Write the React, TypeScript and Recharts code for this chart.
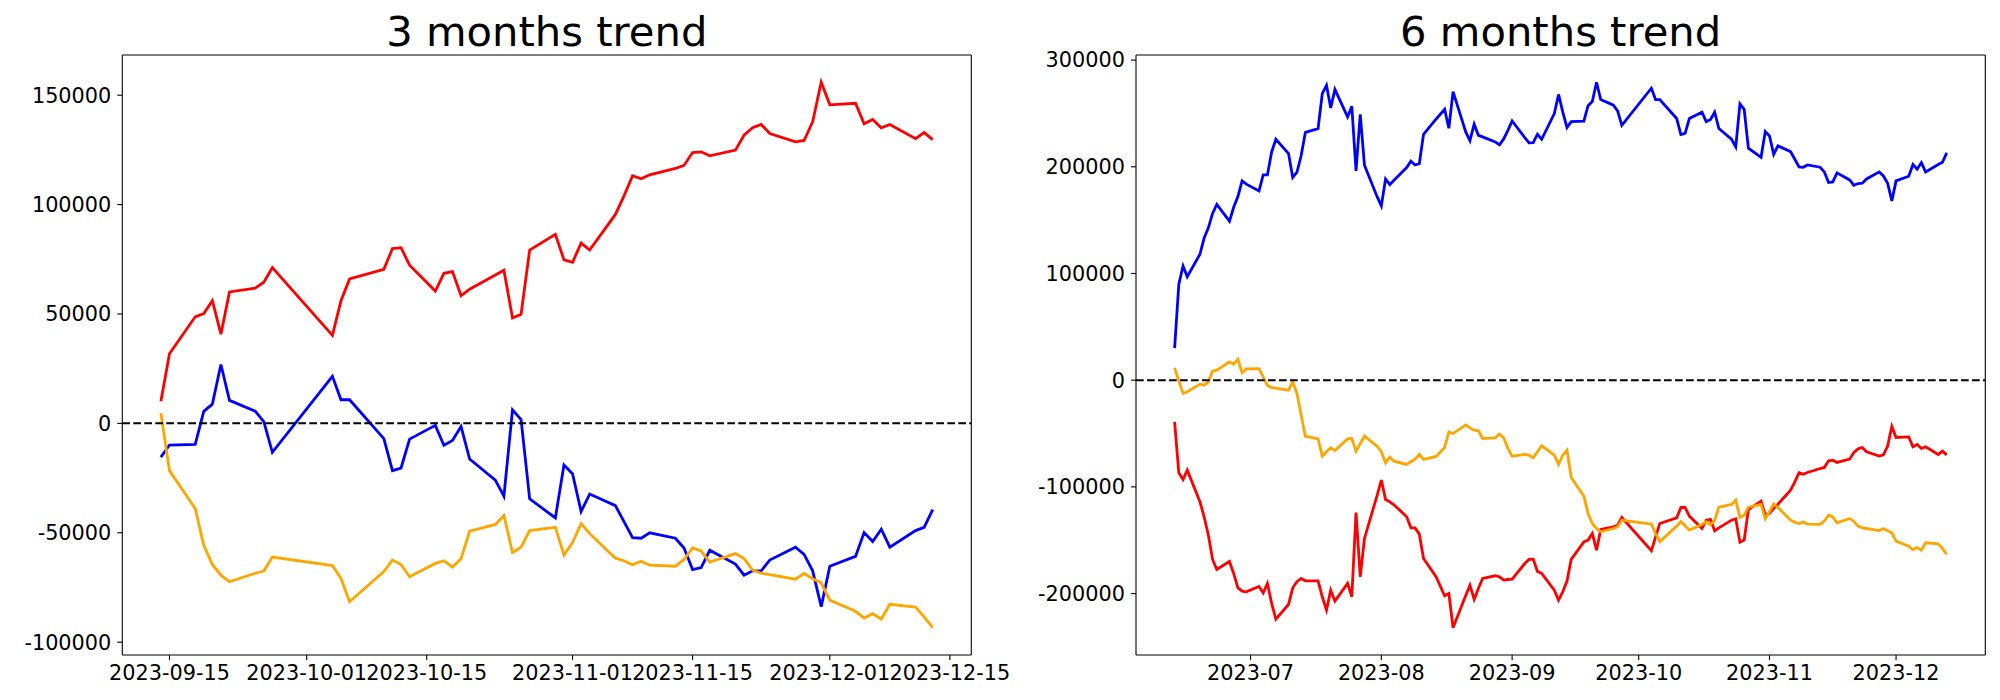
import { LineChart, Line, XAxis, YAxis, ReferenceLine } from 'recharts'

// ---- 3 months ----
const dates3m = [
  '2023-09-14', '2023-09-15', '2023-09-18', '2023-09-19', '2023-09-20', '2023-09-21', '2023-09-22', '2023-09-25', '2023-09-26', '2023-09-27',
  '2023-10-04', '2023-10-05', '2023-10-06', '2023-10-10', '2023-10-11', '2023-10-12', '2023-10-13', '2023-10-16', '2023-10-17', '2023-10-18',
  '2023-10-19', '2023-10-20', '2023-10-23', '2023-10-24', '2023-10-25', '2023-10-26', '2023-10-27', '2023-10-30', '2023-10-31',
  '2023-11-01', '2023-11-02', '2023-11-03', '2023-11-06', '2023-11-07', '2023-11-08', '2023-11-09', '2023-11-10', '2023-11-13', '2023-11-14',
  '2023-11-15', '2023-11-16', '2023-11-17', '2023-11-20', '2023-11-21', '2023-11-22', '2023-11-23', '2023-11-24', '2023-11-27', '2023-11-28',
  '2023-11-29', '2023-11-30',
  '2023-12-01', '2023-12-04', '2023-12-05', '2023-12-06', '2023-12-07', '2023-12-08', '2023-12-11', '2023-12-12', '2023-12-13',
]
const red3m = [
  10100, 31800, 48700, 50200, 56100, 40800, 60100, 61800, 64500, 71200,
  40200, 56100, 66000, 70400, 79900, 80300, 72300, 60500, 68600, 69400,
  58300, 61300, 67800, 70000, 48200, 49900, 79200, 86400, 74700,
  73600, 82400, 79200, 95500, 104000, 113200, 111800, 113600, 116500, 117900,
  123800, 124100, 122300, 124900, 131700, 135100, 136600, 132500, 128700, 129300,
  137800, 155900,
  145600, 146300, 136900, 138900, 135100, 136600, 130100, 132900, 129700,
]
const blue3m = [
  -15400, -9900, -9600, 5500, 8800, 26900, 10500, 5600, 800, -13200,
  21500, 10800, 10800, -7000, -21600, -20400, -7200, -900, -10000, -7800,
  -1400, -16300, -25900, -33300, 6200, 1700, -34500, -43200, -19000,
  -23000, -40300, -32300, -37600, -44900, -52200, -52500, -50000, -52500, -57000,
  -66800, -65900, -58000, -64300, -69400, -67400, -67400, -62500, -56600, -59900,
  -67400, -83800,
  -65300, -60800, -49900, -54000, -48400, -56600, -49000, -47500, -39400,
]
const orange3m = [
  4700, -21600, -38900, -55700, -64500, -69400, -72400, -68500, -67500, -61100,
  -65000, -70900, -81500, -67700, -62500, -64500, -70100, -64000, -62800, -65700,
  -61900, -49300, -46200, -42100, -59000, -56600, -49000, -47500, -60200,
  -54500, -45800, -50400, -61600, -62800, -64600, -63000, -64800, -65300, -62200,
  -56900, -58300, -63400, -59500, -61800, -67100, -68500, -69100, -71200, -68600,
  -71000, -72900,
  -80800, -85900, -89000, -87000, -89400, -82700, -84000, -88400, -93400,
]
const xTicks3m = ['2023-09-15', '2023-10-01', '2023-10-15', '2023-11-01', '2023-11-15', '2023-12-01', '2023-12-15']
const yTicks3m = [-100000, -50000, 0, 50000, 100000, 150000]

// ---- 6 months ----
const dates6m = [
  '2023-06-13', '2023-06-14', '2023-06-15', '2023-06-16', '2023-06-19', '2023-06-20', '2023-06-21', '2023-06-22', '2023-06-23',
  '2023-06-26', '2023-06-27', '2023-06-28', '2023-06-29', '2023-06-30',
  '2023-07-03', '2023-07-04', '2023-07-05', '2023-07-06', '2023-07-07', '2023-07-10', '2023-07-11', '2023-07-12', '2023-07-13', '2023-07-14',
  '2023-07-17', '2023-07-18', '2023-07-19', '2023-07-20', '2023-07-21', '2023-07-24', '2023-07-25', '2023-07-26', '2023-07-27', '2023-07-28',
  '2023-07-31',
  '2023-08-01', '2023-08-02', '2023-08-03', '2023-08-04', '2023-08-07', '2023-08-08', '2023-08-09', '2023-08-10', '2023-08-11',
  '2023-08-14', '2023-08-16', '2023-08-17', '2023-08-18', '2023-08-21', '2023-08-22', '2023-08-23', '2023-08-24', '2023-08-25',
  '2023-08-28', '2023-08-29', '2023-08-30', '2023-08-31',
  '2023-09-01', '2023-09-04', '2023-09-05', '2023-09-06', '2023-09-07', '2023-09-08', '2023-09-11', '2023-09-12', '2023-09-13',
  '2023-09-14', '2023-09-15', '2023-09-18', '2023-09-19', '2023-09-20', '2023-09-21', '2023-09-22', '2023-09-25', '2023-09-26',
  '2023-09-27',
  '2023-10-04', '2023-10-05', '2023-10-06', '2023-10-10', '2023-10-11', '2023-10-12', '2023-10-13', '2023-10-16', '2023-10-17',
  '2023-10-18', '2023-10-19', '2023-10-20', '2023-10-23', '2023-10-24', '2023-10-25', '2023-10-26', '2023-10-27', '2023-10-30',
  '2023-10-31',
  '2023-11-01', '2023-11-02', '2023-11-03', '2023-11-06', '2023-11-07', '2023-11-08', '2023-11-09', '2023-11-10', '2023-11-13',
  '2023-11-14', '2023-11-15', '2023-11-16', '2023-11-17', '2023-11-20', '2023-11-21', '2023-11-22', '2023-11-23', '2023-11-24',
  '2023-11-27', '2023-11-28', '2023-11-29', '2023-11-30',
  '2023-12-01', '2023-12-04', '2023-12-05', '2023-12-06', '2023-12-07', '2023-12-08', '2023-12-11', '2023-12-12', '2023-12-13',
]
const red6m = [
  -39000, -86800, -93100, -84300, -114000, -128000, -145200, -168000, -177400,
  -169900, -181100, -194600, -197700, -198300,
  -193300, -199300, -190500, -209200, -223900, -210200, -194600, -188900, -185800, -188000,
  -188000, -203000, -215500, -196800, -207100, -190500, -203000, -124000, -184300, -148300,
  -108000,
  -93700, -111800, -114000, -116800, -128000, -138400, -138400, -144300, -167100,
  -184300, -202100, -199900, -232000, -201800, -192100, -205500, -195200, -185800,
  -183300, -184300, -187400, -186800,
  -186400, -171800, -168000, -167700, -179300, -181100, -196800, -206100, -198300,
  -188300, -168000, -151500, -149900, -143700, -159300, -139900, -137400, -135900,
  -128700,
  -159900, -146800, -134300, -129000, -119300, -119300, -127400, -139000, -131200,
  -130500, -141200, -138400, -131200, -129900, -151800, -149900, -121200, -113400,
  -126500,
  -124900, -120200, -116200, -103100, -95300, -86800, -88100, -86500, -82800,
  -81800, -75600, -75000, -77100, -74000, -67800, -64300, -63100, -67100,
  -71200, -70000, -61800, -43400,
  -53700, -53100, -62500, -60300, -64000, -62500, -69600, -66500, -70000,
]
const blue6m = [
  30000, 90000, 107000, 96900, 118000, 133200, 142800, 156300, 164800,
  149100, 162100, 172100, 186700, 183700,
  177400, 192400, 192400, 213900, 225800, 212400, 189900, 194900, 210500, 232300,
  235800, 268600, 276400, 255200, 272600, 246700, 256700, 196100, 249200, 201400,
  172000,
  163300, 188600, 183300, 187400, 199300, 205200, 201700, 203000, 230500,
  244800, 253900, 236100, 270500, 232700, 224500, 239900, 229500, 228000,
  223300, 220500, 226100, 234200,
  243000, 227400, 222400, 222700, 230500, 225800, 249800, 267800, 251400,
  236800, 242300, 242700, 257300, 261100, 279200, 263000, 257700, 252300,
  238900,
  273600, 263000, 263000, 245200, 230200, 231400, 245200, 251100, 242300,
  244200, 251100, 235800, 225800, 218600, 258900, 253900, 217400, 208900,
  233000,
  228900, 211700, 219600, 214200, 207100, 199900, 199600, 201700, 199600,
  195200, 185200, 185800, 194300, 187700, 182700, 184300, 184600, 188600,
  195200, 191400, 184600, 168000,
  186800, 191100, 202100, 197700, 203900, 195200, 202100, 204200, 213000,
]
const orange6m = [
  11600, -900, -12500, -10900, -3700, -4700, -1600, 8400, 9400,
  17200, 15000, 19800, 7000, 10600,
  10900, 3100, -5000, -6900, -7500, -9400, -1600, -12500, -32800, -52500,
  -55000, -71200, -67100, -63400, -65900, -55000, -54700, -66500, -59300, -52500,
  -61800,
  -67100, -77500, -72100, -75900, -79000, -76500, -74000, -69600, -74300,
  -71500, -63100, -48400, -50000, -41900, -44700, -46900, -47500, -54700,
  -54000, -50600, -54000, -64000,
  -71200, -69600, -70300, -72800, -67100, -61500, -70300, -79000, -70300,
  -65600, -91200, -108700, -124900, -134300, -139000, -142100, -139000, -137400,
  -131200,
  -134900, -143700, -151500, -136800, -132400, -136500, -140500, -135200, -132700,
  -135500, -131500, -119000, -116500, -112400, -128700, -126500, -119000, -116500,
  -129900,
  -123400, -115900, -119300, -131200, -133000, -134300, -133000, -134900, -135200,
  -132100, -126500, -128100, -133700, -129600, -132400, -136800, -138400, -139000,
  -140900, -139000, -141200, -143000,
  -150800, -155500, -158700, -156800, -159300, -152400, -153300, -157700, -163300,
]
const xTicks6m = ['2023-07-01', '2023-08-01', '2023-09-01', '2023-10-01', '2023-11-01', '2023-12-01']
const yTicks6m = [-200000, -100000, 0, 100000, 200000, 300000]

const FONT = 'DejaVu Sans'

const day = (s: string) => {
  const [y, m, d] = s.split('-').map(Number)
  return Date.UTC(y, m - 1, d) / 86400000
}

const isoOf = (n: number) => new Date(Math.round(n) * 86400000).toISOString().slice(0, 10)

// matplotlib-style 5% margins
const pad = (lo: number, hi: number): [number, number] => {
  const m = (hi - lo) * 0.05
  return [lo - m, hi + m]
}

type PanelProps = {
  title: string
  dates: string[]
  red: number[]
  blue: number[]
  orange: number[]
  xTicks: string[]
  yTicks: number[]
  fmt: (s: string) => string
  left: number
  width: number
  plotLeft: number
  plotRight: number
}

function Panel({ title, dates, red, blue, orange, xTicks, yTicks, fmt, left, width, plotLeft, plotRight }: PanelProps) {
  const rows = dates.map((d, i) => ({ x: day(d), red: red[i], blue: blue[i], orange: orange[i] }))
  const xs = rows.map(r => r.x)
  const xDomain = pad(Math.min(...xs), Math.max(...xs))
  const all = [...red, ...blue, ...orange]
  const yDomain = pad(Math.min(...all), Math.max(...all))
  const H = 700
  const tickStyle = { fill: '#000', fontSize: 20.8, fontFamily: FONT }
  const line = { stroke: '#000', strokeWidth: 1.1 }

  return (
    <div style={{ position: 'absolute', left, top: 0, width, height: H }}>
      <div
        style={{
          position: 'absolute',
          left: plotLeft,
          width: width - plotLeft - plotRight,
          top: 11.4,
          textAlign: 'center',
          fontFamily: FONT,
          fontSize: 41.7,
          lineHeight: 1,
          color: '#000',
          whiteSpace: 'nowrap',
        }}
      >
        {title}
      </div>
      <LineChart width={width} height={H} data={rows} margin={{ top: 55, right: plotRight, left: 10, bottom: 0 }}>
        <XAxis
          dataKey="x"
          type="number"
          domain={xDomain}
          allowDataOverflow
          ticks={xTicks.map(day)}
          interval={0}
          tickFormatter={(v: number) => fmt(isoOf(v))}
          height={45}
          tickSize={5}
          tickMargin={5}
          tick={tickStyle}
          axisLine={line}
          tickLine={line}
        />
        <YAxis
          type="number"
          domain={yDomain}
          allowDataOverflow
          ticks={yTicks}
          interval={0}
          width={plotLeft - 10}
          tickSize={5}
          tickMargin={6}
          tick={tickStyle}
          axisLine={line}
          tickLine={line}
        />
        {/* top and right spines */}
        <ReferenceLine y={yDomain[1]} stroke="#000" strokeWidth={1.1} />
        <ReferenceLine x={xDomain[1]} stroke="#000" strokeWidth={1.1} />
        <Line type="linear" dataKey="red" stroke="#ff0000" strokeWidth={2.8} dot={false} isAnimationActive={false} />
        <Line type="linear" dataKey="blue" stroke="#0000ff" strokeWidth={2.8} dot={false} isAnimationActive={false} />
        <Line type="linear" dataKey="orange" stroke="#ffa500" strokeWidth={2.8} dot={false} isAnimationActive={false} />
        <ReferenceLine y={0} stroke="#000" strokeWidth={2} strokeDasharray="7.7 3.3" />
      </LineChart>
    </div>
  )
}

export default function App() {
  return (
    <div style={{ position: 'absolute', left: 0, top: 0, width: 2000, height: 700, background: '#fff' }}>
      <Panel
        title="3 months trend"
        dates={dates3m}
        red={red3m}
        blue={blue3m}
        orange={orange3m}
        xTicks={xTicks3m}
        yTicks={yTicks3m}
        fmt={s => s}
        left={0}
        width={1060}
        plotLeft={122.3}
        plotRight={88.7}
      />
      <Panel
        title="6 months trend"
        dates={dates6m}
        red={red6m}
        blue={blue6m}
        orange={orange6m}
        xTicks={xTicks6m}
        yTicks={yTicks6m}
        fmt={s => s.slice(0, 7)}
        left={1000}
        width={1000}
        plotLeft={136}
        plotRight={14.7}
      />
    </div>
  )
}
